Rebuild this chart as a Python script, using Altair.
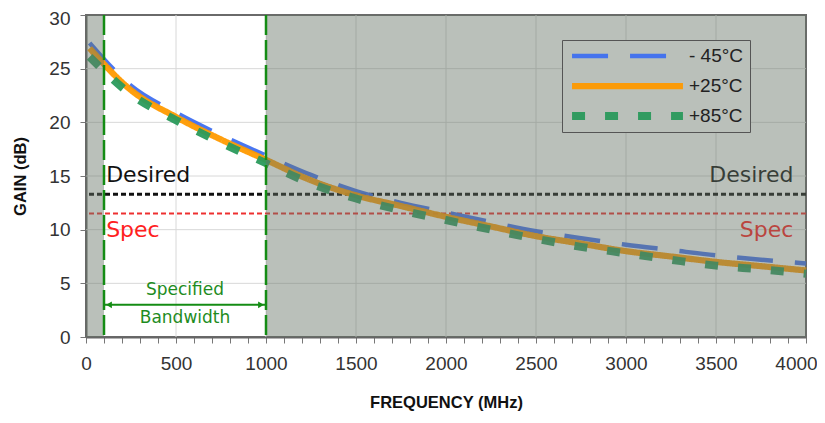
import altair as alt
import pandas as pd

# ---------------- data ----------------
freq = [20, 250, 500, 750, 1000, 1250, 1500, 1750, 2000, 2250, 2500, 2750, 3000, 3250, 3500, 3750, 4000]
gain_m45 = [27.4, 23.4, 20.9, 18.8, 16.9, 15.1, 13.6, 12.5, 11.6, 10.7, 9.85, 9.2, 8.6, 8.1, 7.6, 7.2, 6.85]
gain_p25 = [26.9, 23.0, 20.5, 18.4, 16.5, 14.6, 13.2, 12.2, 11.2, 10.3, 9.4, 8.7, 8.0, 7.5, 7.0, 6.6, 6.2]
gain_p85 = [26.1, 22.6, 20.2, 18.1, 16.2, 14.3, 12.9, 11.8, 10.9, 10.0, 9.15, 8.4, 7.8, 7.2, 6.65, 6.3, 5.9]

series_names = ["- 45°C", "+25°C", "+85°C"]
series_colors = ["#3f6ff0", "#ff9a00", "#2a9a5c"]
series_dash = [[36, 22], [1, 0], [13, 20]]
series_width = [4.5, 8, 6]

x_ticks = list(range(0, 4001, 100))
x_grid = [500, 1000, 1500, 2000, 2500, 3000, 3500]
y_ticks = [0, 5, 10, 15, 20, 25, 30]
y_grid = [5, 10, 15, 20, 25]

band_edges = [100, 1000]
shade_from = [0, 1000]
shade_to = [100, 4000]
desired_level = 13.3
spec_level = 11.5
arrow_level = 3.0

side_labels = ["Desired", "Spec"]
left_x = [112, 112]
right_x = [3930, 3930]
label_y = [15.1, 9.95]
label_colors = ["#111111", "#ff2020"]

center_labels = ["Specified", "Bandwidth"]
center_x = [550, 550]
center_y = [4.35, 1.8]

# ---------------- tables ----------------
rows = []
for name, vals in zip(series_names, [gain_m45, gain_p25, gain_p85]):
    for f, g in zip(freq, vals):
        rows.append({"freq": f, "gain": g, "series": name})
curves = pd.DataFrame(rows)

xs = alt.Scale(domain=[0, 4000], nice=False, zero=False)
ys = alt.Scale(domain=[0, 30], nice=False, zero=False)

xaxis = alt.Axis(
    title="FREQUENCY (MHz)", values=x_ticks, format="d",
    labelExpr="datum.value % 500 == 0 ? datum.label : ''",
    grid=False, tickSize=6, tickColor="#777", domainColor="#666", domainWidth=2,
    labelFontSize=19, labelFont="Liberation Sans", labelColor="#333",
    labelPadding=11, labelFlush=False, labelOverlap=False,
    labelOffset={"condition": {"test": "datum.value === 4000", "value": -10}, "value": 0},
    titleFont="Liberation Sans", titleFontSize=16.5, titleFontWeight="bold",
    titleColor="#111", titlePadding=21,
)
yaxis = alt.Axis(
    title="GAIN (dB)", values=y_ticks, format="d", grid=False, tickSize=6, tickColor="#777",
    domainColor="#666", domainWidth=2,
    labelFontSize=19, labelFont="Liberation Sans", labelColor="#333", labelPadding=10,
    labelOffset={"condition": {"test": "datum.value === 30", "value": 3}, "value": 0},
    titleFont="Liberation Sans", titleFontSize=16.5, titleFontWeight="bold",
    titleColor="#111", titleX=-66, titleBaseline="middle",
)

def X(f="x"):
    return alt.X(f"{f}:Q", scale=xs, axis=xaxis)

def Y(f="y"):
    return alt.Y(f"{f}:Q", scale=ys, axis=yaxis)

gx = alt.Chart(pd.DataFrame({"x": x_grid})).mark_rule(color="#d8d8d8", strokeWidth=1).encode(x=X())
gy = alt.Chart(pd.DataFrame({"y": y_grid})).mark_rule(color="#d8d8d8", strokeWidth=1).encode(y=Y())

levels = alt.Chart(pd.DataFrame({
    "y": [desired_level, spec_level], "c": ["#111111", "#ee3030"], "w": [3, 2]
})).mark_rule(strokeDash=[5, 3]).encode(
    y=Y(),
    color=alt.Color("c:N", scale=None),
    strokeWidth=alt.StrokeWidth("w:Q", scale=None),
)

legend = alt.Legend(
    orient="none", legendX=476, legendY=25, title=None,
    symbolType="stroke", symbolSize=12300, symbolStrokeWidth=6,
    clipHeight=20, rowPadding=10, padding=6, labelOffset=2,
    labelFontSize=19, labelFont="Liberation Sans", labelColor="#222",
    fillColor="#bac0ba", strokeColor="#555555",
)

lines = alt.Chart(curves).mark_line(interpolate="monotone", opacity=0.95).encode(
    x=X("freq"),
    y=Y("gain"),
    color=alt.Color("series:N", scale=alt.Scale(domain=series_names, range=series_colors), legend=legend),
    strokeDash=alt.StrokeDash("series:N", scale=alt.Scale(domain=series_names, range=series_dash), legend=legend),
    strokeWidth=alt.StrokeWidth("series:N", scale=alt.Scale(domain=series_names, range=series_width), legend=None),
)

def text_layer(labels, xv, yv, colors, align, size, font="DejaVu Sans"):
    df = pd.DataFrame({"x": xv, "y": yv, "t": labels, "c": colors})
    return alt.Chart(df).mark_text(align=align, baseline="middle", font=font, fontSize=size).encode(
        x=X(), y=Y(), text="t:N", color=alt.Color("c:N", scale=None),
    )

t_left = text_layer(side_labels, left_x, label_y, label_colors, "left", 22)
t_right = text_layer(side_labels, right_x, label_y, label_colors, "right", 22)
t_center = text_layer(center_labels, center_x, center_y, ["#1e8c1e", "#1e8c1e"], "center", 17)

# translucent gray shading outside the specified band (drawn over curves)
shade = alt.Chart(pd.DataFrame({"x": shade_from, "x2": shade_to, "y": [0, 0], "y2": [30, 30]})).mark_rect(
    color="#667366", opacity=0.45
).encode(x=X(), x2="x2:Q", y=Y(), y2="y2:Q")

band = alt.Chart(pd.DataFrame({"x": band_edges})).mark_rule(
    color="#148c14", strokeDash=[20, 5], strokeWidth=2.5
).encode(x=X())

arrow = alt.Chart(pd.DataFrame({"x": [band_edges[0]], "x2": [band_edges[1]], "y": [arrow_level]})).mark_rule(
    color="#148c14", strokeWidth=2
).encode(x=X(), x2="x2:Q", y=Y())

head_l = alt.Chart(pd.DataFrame({"x": [band_edges[0]], "y": [arrow_level]})).mark_point(
    shape="triangle-left", filled=True, size=45, color="#148c14", opacity=1, xOffset=5
).encode(x=X(), y=Y())
head_r = alt.Chart(pd.DataFrame({"x": [band_edges[1]], "y": [arrow_level]})).mark_point(
    shape="triangle-right", filled=True, size=45, color="#148c14", opacity=1, xOffset=-5
).encode(x=X(), y=Y())

chart = alt.layer(
    gx, gy, levels, lines, t_left, t_right, shade, band, arrow, head_l, head_r, t_center
).properties(
    width=720, height=322,
    autosize=alt.AutoSizeParams(type="none"),
    padding={"left": 78, "top": 7, "right": 11, "bottom": 76},
).configure_view(
    fill="white", stroke="#6a6a6a", strokeWidth=2
)

chart.save("out.html", embed_options={"renderer": "svg", "actions": False})
